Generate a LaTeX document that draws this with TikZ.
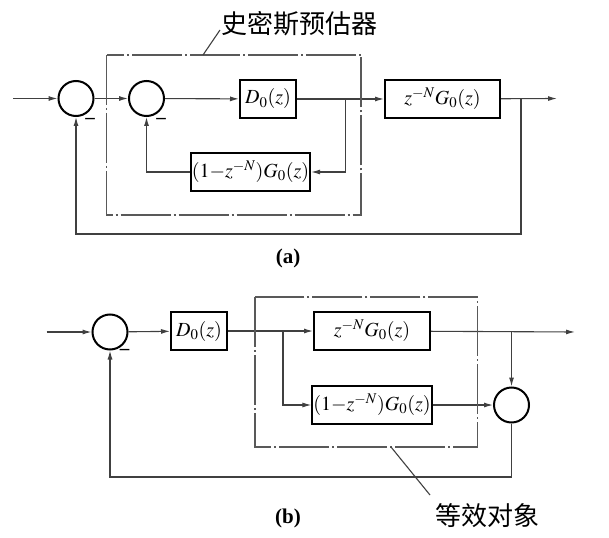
\documentclass[tikz,border=0pt]{standalone}
\usepackage{mathptmx}
\usepackage{fontspec}
\setmainfont{Liberation Serif}
\newfontfamily\cjk{Noto Sans CJK SC}
\usetikzlibrary{arrows.meta}
\begin{document}
\begin{tikzpicture}[x=1pt,y=-1pt,
  blk/.style={draw,line width=2pt,minimum height=38pt,inner sep=1pt,font=\fontsize{20}{22}\selectfont},
  sum/.style={draw,circle,line width=2pt,minimum size=35pt,inner sep=0pt},
  sig/.style={line width=1.1pt,draw=black!75},
  arr/.style={sig,-{Latex[length=9pt,width=5pt]}},
  dd/.style={line width=1.1pt,draw=black!65,dash pattern=on 50pt off 3pt on 2pt off 3pt},
  cjklbl/.style={font=\cjk\fontsize{26}{28}\selectfont,inner sep=0pt},
  captext/.style={font=\fontsize{21}{23}\selectfont\bfseries,inner sep=0pt},
  minus/.style={font=\fontsize{19}{21}\selectfont\bfseries,inner sep=0pt}
]
\useasboundingbox (0,0) rectangle (609,537);

% ---------- (a) ----------
\node[sum] (s1) at (76,98.5) {};
\node[sum] (s2) at (146.5,98.5) {};
\node[blk,minimum width=56pt] (d0) at (268,99) {$D_0(z)$};
\node[blk,minimum width=115pt] (g) at (442.5,99) {$z^{-N}G_0(z)$};
\node[blk,minimum width=115pt] (fb) at (250.5,172) {$(1{-}z^{-N})G_0(z)$};
\node[minus] (m1) at (90,121) {–};
\node[minus] (m2) at (161,121) {–};
\coordinate (in) at (13,98.5);
\coordinate (out) at (557,98.5);
\coordinate (b1) at (345.7,98.5);
\coordinate (b2) at (521,98.5);
\coordinate (fa) at (76,234);
\draw[arr] (in) -- (s1);
\draw[arr] (s1) -- (s2);
\draw[arr] (s2) -- (d0);
\draw[arr] (d0) -- (g);
\draw[arr] (g) -- (out);
\draw[arr] (b1) |- (fb);
\draw[arr] (fb.west) -| (s2.south);
\draw[arr] (b2) |- (fa) -- (s1.south);
\draw[dd] (106.5,55) rectangle (361,215);
\node[cjklbl] (smith) at (299.5,24) {史密斯预估器};
\coordinate (la) at (203,55);
\coordinate (lb) at (220,30);
\draw[sig] (la) -- (lb);
\node[captext] (capa) at (288,258) {(a)};

% ---------- (b) ----------
\node[sum] (t1) at (110,332) {};
\node[blk,minimum width=56pt] (e0) at (199,331) {$D_0(z)$};
\node[blk,minimum width=116pt] (h1) at (372,331) {$z^{-N}G_0(z)$};
\node[blk,minimum width=116pt] (h2) at (372,405) {$(1{-}z^{-N})G_0(z)$};
\node[sum] (t2) at (511.5,405) {};
\node[minus] (m3) at (124.5,352) {–};
\coordinate (in2) at (46.7,332);
\coordinate (out2) at (575,332);
\coordinate (br) at (283,332);
\coordinate (br2) at (511.5,332);
\coordinate (fb2) at (110,477);
\draw[arr] (in2) -- (t1);
\draw[arr] (t1) -- (e0);
\draw[arr] (e0) -- (h1);
\draw[arr] (br) |- (h2);
\draw[arr] (h1) -- (out2);
\draw[arr] (br2) -- (t2);
\draw[arr] (h2) -- (t2);
\draw[arr] (t2) |- (fb2) -- (t1);
\draw[dd] (255,297) rectangle (477.7,447);
\coordinate (lc) at (391,447);
\coordinate (ld) at (430,495);
\draw[sig] (lc) -- (ld);
\node[cjklbl] (equiv) at (487.5,515.5) {等效对象};
\node[captext] (capb) at (288,518) {(b)};
\end{tikzpicture}
\end{document}
